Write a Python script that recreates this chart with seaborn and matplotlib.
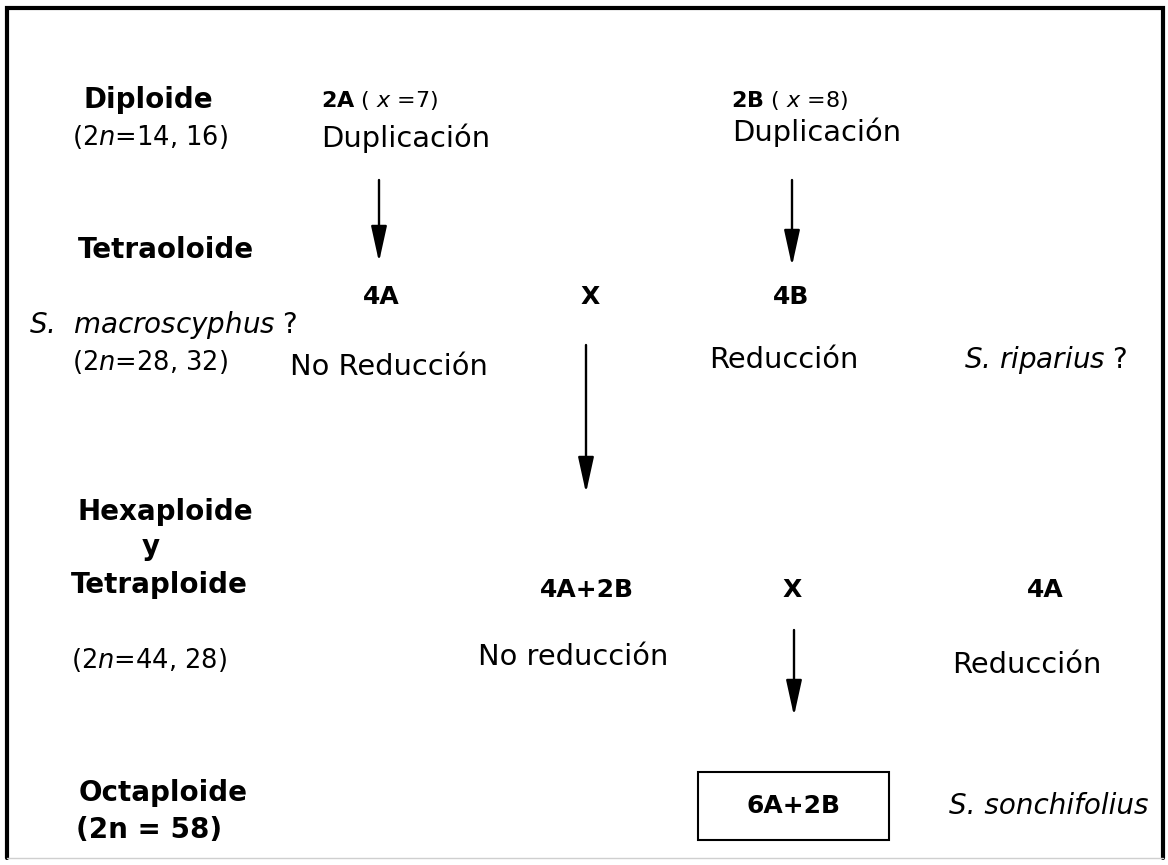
"""
Esquema del origen poliploide de S. sonchifolius
"""
import matplotlib
matplotlib.use("Agg")
import matplotlib.pyplot as plt
import seaborn as sns
from matplotlib.patches import Rectangle

# --- datos del esquema ---
niveles = ["Diploide", "Tetraoloide", "Hexaploide", "y", "Tetraploide",
           "Octaploide", "(2n = 58)"]
cromosomas = [r"(2$\mathit{n}$=14, 16)", r"(2$\mathit{n}$=$\mathit{28}$, 32)",
              r"(2$\mathit{n}$=44, 28)"]
genomas_base = [r"$\mathbf{2A}$ ( $\mathit{x}$ =7)", r"$\mathbf{2B}$ ( $\mathit{x}$ =8)"]
procesos_dup = ["Duplicación", "Duplicación"]
genomas_tetra = ["4A", "X", "4B"]
procesos_tetra = ["No Reducción", "Reducción"]
genomas_hexa = ["4A+2B", "X", "4A"]
procesos_hexa = ["No reducción", "Reducción"]
genoma_final = "6A+2B"
especies = [r"S.  macroscyphus $\mathrm{?}$", r"S. riparius $\mathrm{?}$",
            "S. sonchifolius"]

# --- disposicion (pixeles) ---
pos_niveles = [(148, 100), (166, 250), (165, 512), (151, 547), (159, 585),
               (163, 793), (149, 830)]
pos_cromosomas = [(150, 137), (150, 362), (149, 660)]
pos_base = [(321, 100), (731, 100)]
pos_dup = [(321, 138), (732, 132)]
pos_tetra = [(381, 297), (590, 297), (791, 297)]
pos_proc_tetra = [(389, 367), (784, 360)]
pos_hexa = [(587, 590), (792, 590), (1045, 590)]
pos_proc_hexa = [(573, 657), (1027, 665)]
pos_especies = [(163, 325), (1046, 360), (1049, 806)]
flechas = [(379, 180, 262), (792, 180, 266), (586, 345, 493), (794, 630, 716)]
caja = (698, 772, 191, 68)

sns.set_theme(style="white")
plt.rcParams["font.family"] = ["DejaVu Sans"]
plt.rcParams["mathtext.fontset"] = "dejavusans"
plt.rcParams["text.color"] = "black"

W, H = 1168, 865
fig = plt.figure(figsize=(W / 100, H / 100), dpi=100)
ax = fig.add_axes([0, 0, 1, 1])
ax.set_xlim(0, W)
ax.set_ylim(H, 0)
ax.axis("off")

# marco exterior (el borde inferior es apenas visible)
ax.plot([7, 7, 1163, 1163], [858, 8, 8, 858], color="black", lw=3,
        solid_joinstyle="miter")
ax.plot([7, 1163], [858, 858], color="#cfcfcf", lw=1)

fs_nivel = 20
fs_crom = 18.5
fs_proc = 20.8
fs_gen = 18
fs_base = 16
fs_esp = 20

for txt, (x, y) in zip(niveles, pos_niveles):
    ax.text(x, y, txt, ha="center", va="center", fontsize=fs_nivel,
            fontweight="bold")

for txt, (x, y) in zip(cromosomas, pos_cromosomas):
    ax.text(x, y, txt, ha="center", va="center", fontsize=fs_crom)

for txt, (x, y) in zip(genomas_base, pos_base):
    ax.text(x, y, txt, ha="left", va="center", fontsize=fs_base)

for txt, (x, y) in zip(procesos_dup, pos_dup):
    ax.text(x, y, txt, ha="left", va="center", fontsize=fs_proc)

for txt, (x, y) in zip(genomas_tetra + genomas_hexa, pos_tetra + pos_hexa):
    ax.text(x, y, txt, ha="center", va="center", fontsize=fs_gen,
            fontweight="bold")

for txt, (x, y) in zip(procesos_tetra + procesos_hexa, pos_proc_tetra + pos_proc_hexa):
    ax.text(x, y, txt, ha="center", va="center", fontsize=fs_proc)

for txt, (x, y) in zip(especies, pos_especies):
    ax.text(x, y, txt, ha="center", va="center", fontsize=fs_esp,
            fontstyle="italic")

for x, y0, y1 in flechas:
    ax.annotate("", xy=(x, y1), xytext=(x, y0),
                arrowprops=dict(arrowstyle="-|>,head_length=1.0,head_width=0.22",
                                lw=1.7, color="black", mutation_scale=22,
                                shrinkA=0, shrinkB=0))

bx, by, bw, bh = caja
ax.add_patch(Rectangle((bx, by), bw, bh, fill=False, lw=1.5, ec="black"))
ax.text(bx + bw / 2, by + bh / 2, genoma_final, ha="center", va="center",
        fontsize=fs_gen, fontweight="bold")

plt.savefig("out.png", dpi=100)
